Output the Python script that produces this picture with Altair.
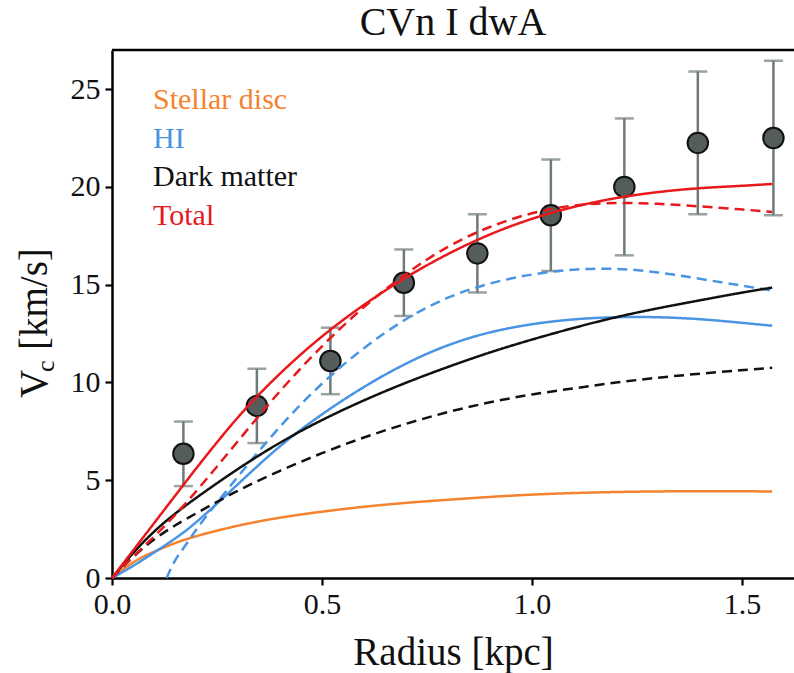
import altair as alt
import pandas as pd

# ---------------- data ----------------
radius_obs = [0.17, 0.345, 0.52, 0.695, 0.87, 1.045, 1.22, 1.395, 1.575]
vel_obs = [6.35, 8.8, 11.1, 15.1, 16.6, 18.55, 20.0, 22.25, 22.5]
err_obs = [1.65, 1.9, 1.7, 1.7, 2.0, 2.85, 3.5, 3.65, 3.95]

r_grid = [0.0, 0.05, 0.1, 0.15, 0.2, 0.3, 0.4, 0.5, 0.6, 0.7, 0.8, 0.9,
          1.0, 1.1, 1.2, 1.3, 1.4, 1.5, 1.572]

stellar = [0.0, 0.85, 1.35, 1.8, 2.15, 2.7, 3.1, 3.4, 3.65, 3.85, 4.0, 4.15,
           4.27, 4.35, 4.4, 4.43, 4.44, 4.44, 4.42]
hi_solid = [0.0, 0.6, 1.3, 2.0, 2.8, 4.8, 6.8, 8.4, 9.8, 11.0, 11.95, 12.6,
            13.0, 13.25, 13.35, 13.35, 13.25, 13.05, 12.9]
dm_solid = [0.0, 1.3, 2.4, 3.3, 4.1, 5.6, 6.95, 8.1, 9.1, 10.0, 10.8, 11.55,
            12.2, 12.8, 13.35, 13.8, 14.2, 14.6, 14.85]
dm_dashed = [0.0, 1.1, 2.0, 2.7, 3.3, 4.5, 5.5, 6.4, 7.2, 7.9, 8.5, 9.0,
             9.4, 9.7, 10.0, 10.25, 10.45, 10.63, 10.75]
tot_solid = [0.0, 1.4, 2.8, 4.2, 5.6, 8.3, 10.5, 12.4, 14.0, 15.4, 16.6, 17.6,
             18.4, 19.0, 19.45, 19.75, 19.95, 20.05, 20.15]
tot_dashed = [0.0, 1.1, 2.1, 3.2, 4.4, 7.0, 9.6, 11.9, 13.9, 15.6, 17.0, 18.0,
              18.7, 19.1, 19.2, 19.15, 19.0, 18.85, 18.72]

r_hi_dashed = [0.13, 0.14, 0.155, 0.18, 0.2, 0.25, 0.3, 0.4, 0.5, 0.6, 0.7, 0.8,
               0.9, 1.0, 1.1, 1.2, 1.3, 1.4, 1.5, 1.572]
hi_dashed = [0.0, 0.5, 1.1, 1.8, 2.5, 3.85, 5.2, 7.8, 10.0, 11.8, 13.3, 14.4,
             15.1, 15.55, 15.8, 15.85, 15.65, 15.3, 14.95, 14.7]

legend_labels = ["Stellar disc", "HI", "Dark matter", "Total"]
colors = ["#f5822c", "#4a94e4", "#111111", "#e8191c"]

# ---------------- tables ----------------
obs = pd.DataFrame({"r": radius_obs, "v": vel_obs, "e": err_obs})
obs["lo"] = obs["v"] - obs["e"]
obs["hi"] = obs["v"] + obs["e"]

rows = []
def add(rs, vs, comp, kind):
    for r, v in zip(rs, vs):
        rows.append({"r": r, "v": v, "comp": comp, "kind": kind})

add(r_grid, stellar, "Stellar disc", "solid")
add(r_grid, hi_solid, "HI", "solid")
add(r_hi_dashed, hi_dashed, "HI", "dashed")
add(r_grid, dm_solid, "Dark matter", "solid")
add(r_grid, dm_dashed, "Dark matter", "dashed")
add(r_grid, tot_solid, "Total", "solid")
add(r_grid, tot_dashed, "Total", "dashed")
curves = pd.DataFrame(rows)

one = pd.DataFrame({"k": [0]})

FONT = "Liberation Serif"
W, H = 682, 528
xscale = alt.Scale(domain=[0, 1.624], nice=False, zero=False)
yscale = alt.Scale(domain=[0, 27], nice=False)

xenc = alt.X("r:Q", scale=xscale,
             axis=alt.Axis(title="Radius [kpc]", values=[0.0, 0.5, 1.0, 1.5],
                           format=".1f", grid=False, labelFlush=False))
yaxis = alt.Axis(title=None, values=[0, 5, 10, 15, 20, 25], grid=False, labelFlush=False)

base_obs = alt.Chart(obs)
ERRC = "#6f7a7a"

bars = base_obs.mark_rule(color=ERRC, strokeWidth=2.5).encode(
    x=xenc, y=alt.Y("lo:Q", scale=yscale, axis=yaxis), y2="hi:Q")
cap_lo = base_obs.mark_tick(color=ERRC, orient="horizontal", size=19, thickness=2.5).encode(
    x=xenc, y=alt.Y("lo:Q", scale=yscale))
cap_hi = base_obs.mark_tick(color=ERRC, orient="horizontal", size=19, thickness=2.5).encode(
    x=xenc, y=alt.Y("hi:Q", scale=yscale))
pts = base_obs.mark_point(filled=True, shape="circle", size=420, fill="#545c5c",
                          stroke="#111111", strokeWidth=2, opacity=1).encode(
    x=xenc, y=alt.Y("v:Q", scale=yscale))

lines = alt.Chart(curves).mark_line(strokeWidth=2.5, interpolate="basis").encode(
    x=xenc,
    y=alt.Y("v:Q", scale=yscale),
    color=alt.Color("comp:N", scale=alt.Scale(domain=legend_labels, range=colors), legend=None),
    strokeDash=alt.StrokeDash("kind:N", scale=alt.Scale(domain=["solid", "dashed"],
                                                        range=[[1, 0], [10, 6]]), legend=None),
    detail="kind:N",
)

# top frame line
top_line = alt.Chart(one).mark_rule(color="black", strokeWidth=2.5).encode(
    x=alt.value(0), x2=alt.value(W), y=alt.value(0))

# colored-text legend
leg_layers = []
for i, (lab, col) in enumerate(zip(legend_labels, colors)):
    leg_layers.append(
        alt.Chart(one).mark_text(text=lab, color=col, font=FONT, fontSize=30,
                                 align="left", baseline="middle").encode(
            x=alt.value(41), y=alt.value(50 + 38.5 * i)))

# y axis title with subscript
ytitle_V = alt.Chart(one).mark_text(text="V", font=FONT, fontSize=39, angle=270,
                                    align="left", baseline="alphabetic", color="#111").encode(
    x=alt.value(-65), y=alt.value(348))
ytitle_c = alt.Chart(one).mark_text(text="c", font=FONT, fontSize=26, angle=270,
                                    align="left", baseline="alphabetic", color="#111").encode(
    x=alt.value(-58), y=alt.value(322))
ytitle_rest = alt.Chart(one).mark_text(text="[km/s]", font=FONT, fontSize=39, angle=270,
                                       align="left", baseline="alphabetic", color="#111").encode(
    x=alt.value(-65), y=alt.value(300))

chart = alt.layer(
    bars, cap_lo, cap_hi, pts, lines, top_line, *leg_layers,
    ytitle_V, ytitle_c, ytitle_rest
).properties(
    width=W, height=H,
    title=alt.TitleParams("CVn I dwA", font=FONT, fontSize=40, fontWeight="normal",
                          color="#111", anchor="middle", offset=6),
    autosize=alt.AutoSizeParams(type="none"),
    padding={"left": 112, "top": 50, "right": 0, "bottom": 95},
).configure_view(stroke=None).configure_axis(
    labelFont=FONT, labelFontSize=30, labelColor="#111",
    titleFont=FONT, titleFontSize=39, titleFontWeight="normal", titleColor="#111",
    domainColor="black", domainWidth=2.5, tickColor="black", tickWidth=2.2,
    tickSize=7, labelPadding=5,
).configure_axisX(labelPadding=4, titlePadding=14)

chart.save("out.html", embed_options={"renderer": "svg", "actions": False})
